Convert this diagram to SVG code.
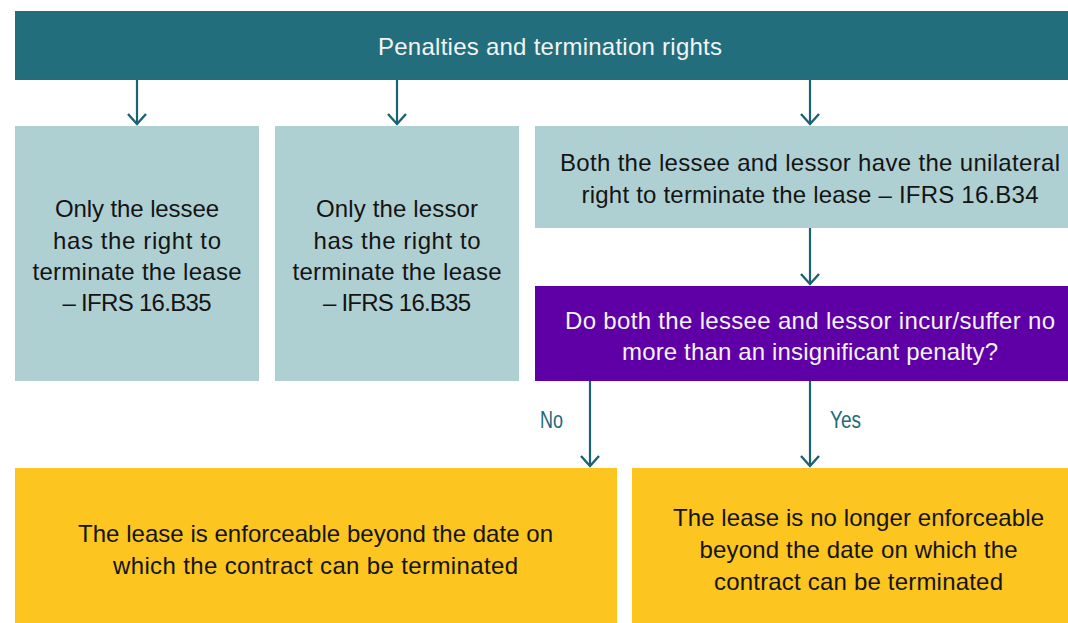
<svg xmlns="http://www.w3.org/2000/svg" width="1068" height="623" viewBox="0 0 1068 623">
<style>
.t{font-family:"Liberation Sans",Arial,sans-serif;font-size:24px;fill:#141414;text-anchor:middle}
.w{fill:#f2f4f4}
.lbl{font-family:"Liberation Sans",Arial,sans-serif;font-size:23px;fill:#1e6a78}
.teal{fill:#236e7c}
.light{fill:#afd0d3}
.purple{fill:#5f00a6}
.yellow{fill:#fcc520}
.conn{stroke:#1b6274;stroke-width:2.2;fill:none}
</style>
<defs>
<marker id="ah" markerUnits="userSpaceOnUse" orient="auto" markerWidth="24" markerHeight="24" viewBox="-12 -12 24 24" refX="0" refY="0" overflow="visible">
<path d="M-10,-9 L0,0 L-10,9" fill="none" stroke="#1b6274" stroke-width="2.4"/>
</marker>
</defs>
<rect width="1068" height="623" fill="#ffffff"/>
<g id="header">
<rect class="teal" x="15" y="11" width="1053" height="69"/>
<text class="t w" x="550" y="55" textLength="344">Penalties and termination rights</text>
</g>
<g id="lessee">
<rect class="light" x="15" y="126" width="244" height="255"/>
<text class="t" x="137" y="217" textLength="164">Only the lessee</text>
<text class="t" x="137" y="249" textLength="168">has the right to</text>
<text class="t" x="137" y="280" textLength="209">terminate the lease</text>
<text class="t" x="137" y="311" textLength="149">– IFRS 16.B35</text>
</g>
<g id="lessor">
<rect class="light" x="275" y="126" width="244" height="255"/>
<text class="t" x="397" y="217" textLength="162">Only the lessor</text>
<text class="t" x="397" y="249" textLength="167">has the right to</text>
<text class="t" x="397" y="280" textLength="209">terminate the lease</text>
<text class="t" x="397" y="311" textLength="148">– IFRS 16.B35</text>
</g>
<g id="both">
<rect class="light" x="535" y="126" width="533" height="102"/>
<text class="t" x="810" y="171" textLength="500">Both the lessee and lessor have the unilateral</text>
<text class="t" x="810" y="203" textLength="457">right to terminate the lease – IFRS 16.B34</text>
</g>
<g id="question">
<rect class="purple" x="535" y="286" width="533" height="95"/>
<text class="t w" x="810" y="329" textLength="490">Do both the lessee and lessor incur/suffer no</text>
<text class="t w" x="810" y="360" textLength="376">more than an insignificant penalty?</text>
</g>
<g id="enforceable">
<rect class="yellow" x="15" y="468" width="602" height="155"/>
<text class="t" x="315.5" y="542" textLength="475">The lease is enforceable beyond the date on</text>
<text class="t" x="315.5" y="574" textLength="405">which the contract can be terminated</text>
</g>
<g id="not-enforceable">
<rect class="yellow" x="632" y="468" width="436" height="155"/>
<text class="t" x="858.5" y="526" textLength="371">The lease is no longer enforceable</text>
<text class="t" x="858.5" y="558" textLength="318">beyond the date on which the</text>
<text class="t" x="858.5" y="590" textLength="289">contract can be terminated</text>
</g>
<g id="connectors">
<line class="conn" x1="137" y1="80" x2="137" y2="124" marker-end="url(#ah)"/>
<line class="conn" x1="397" y1="80" x2="397" y2="124" marker-end="url(#ah)"/>
<line class="conn" x1="810" y1="80" x2="810" y2="124" marker-end="url(#ah)"/>
<line class="conn" x1="810" y1="228" x2="810" y2="284" marker-end="url(#ah)"/>
<line class="conn" x1="590" y1="381" x2="590" y2="466" marker-end="url(#ah)"/>
<line class="conn" x1="810" y1="381" x2="810" y2="466" marker-end="url(#ah)"/>
<text class="lbl" x="540" y="428" textLength="23" lengthAdjust="spacingAndGlyphs">No</text>
<text class="lbl" x="830" y="428" textLength="31" lengthAdjust="spacingAndGlyphs">Yes</text>
</g>
</svg>
